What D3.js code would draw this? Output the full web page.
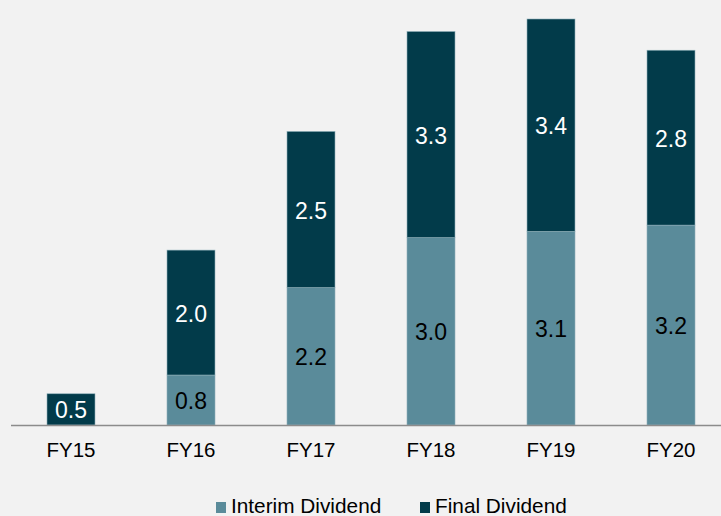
<!DOCTYPE html>
<html>
<head>
<meta charset="utf-8">
<script src="https://cdn.jsdelivr.net/npm/d3@7/dist/d3.min.js"></script>
<style>
  body { margin: 0; background: #f2f2f2; }
  svg { display: block; font-family: "Liberation Sans", Arial, sans-serif; }
</style>
</head>
<body>
<svg width="721" height="516"></svg>
<script>
const years = ["FY15", "FY16", "FY17", "FY18", "FY19", "FY20"];
const interim = [0, 0.8, 2.2, 3.0, 3.1, 3.2];
const final = [0.5, 2.0, 2.5, 3.3, 3.4, 2.8];
const seriesNames = ["Interim Dividend", "Final Dividend"];

const svg = d3.select("svg");
const width = +svg.attr("width");
const height = +svg.attr("height");

svg.append("rect")
  .attr("width", width)
  .attr("height", height)
  .attr("fill", "#f2f2f2");

const color = d3.scaleOrdinal()
  .domain(seriesNames)
  .range(["#5a8b9a", "#023b4a"]);

const x = d3.scaleBand()
  .domain(years)
  .range([11, 731])
  .paddingInner(0.6)
  .paddingOuter(0.3);

const y = d3.scaleLinear()
  .domain([0, 6.5])
  .range([425, 19]);

const rows = years.map((d, i) => ({ year: d, interim: interim[i], final: final[i] }));
const stacked = d3.stack().keys(["interim", "final"])(rows);

const layer = svg.append("g")
  .selectAll("g")
  .data(stacked)
  .join("g")
  .attr("fill", (d, i) => color(seriesNames[i]));

layer.selectAll("rect")
  .data(d => d.filter(s => s[1] - s[0] > 0))
  .join("rect")
  .attr("x", d => x(d.data.year))
  .attr("y", d => y(d[1]))
  .attr("width", x.bandwidth())
  .attr("height", d => y(d[0]) - y(d[1]))
  .attr("stroke", "#8fb0ba")
  .attr("stroke-width", 0.6);

// value labels
stacked.forEach((s, k) => {
  svg.append("g")
    .selectAll("text")
    .data(s.filter(d => d[1] - d[0] > 0))
    .join("text")
    .attr("x", d => x(d.data.year) + x.bandwidth() / 2)
    .attr("y", d => (y(d[0]) + y(d[1])) / 2 + 9)
    .attr("text-anchor", "middle")
    .style("font-size", "23px")
    .style("fill", k === 0 ? "#000" : "#fff")
    .text(d => d3.format(".1f")(d[1] - d[0]));
});

// axis
svg.append("line")
  .attr("x1", 11)
  .attr("x2", width)
  .attr("y1", y(0) + 0.5)
  .attr("y2", y(0) + 0.5)
  .attr("stroke", "#8c8c8c")
  .attr("stroke-width", 1.5);

svg.append("g")
  .selectAll("text")
  .data(years)
  .join("text")
  .attr("x", d => x(d) + x.bandwidth() / 2)
  .attr("y", 457)
  .attr("text-anchor", "middle")
  .style("font-size", "20.5px")
  .style("fill", "#000")
  .text(d => d);

// legend
const legendX = [216, 420];
const legend = svg.append("g")
  .selectAll("g")
  .data(seriesNames)
  .join("g")
  .attr("transform", (d, i) => `translate(${legendX[i]}, 502)`);

legend.append("rect")
  .attr("width", 10)
  .attr("height", 11)
  .attr("fill", d => color(d));

legend.append("text")
  .attr("x", 15)
  .attr("y", 11)
  .style("font-size", "20.8px")
  .style("fill", "#000")
  .text(d => d);
</script>
</body>
</html>
